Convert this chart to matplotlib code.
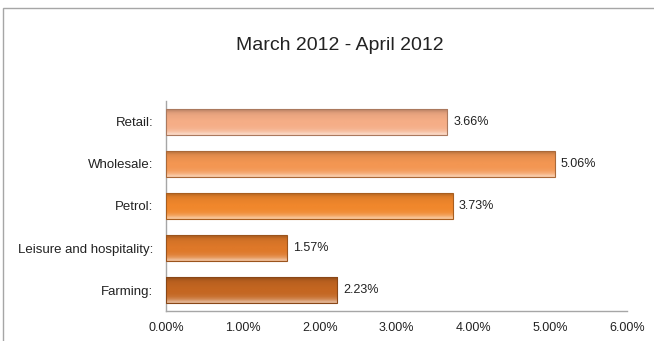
import matplotlib
matplotlib.use("Agg")
import matplotlib.pyplot as plt
import matplotlib.colors as mcolors
from matplotlib.patches import Rectangle
import numpy as np

plt.rcParams['font.family'] = ['Liberation Sans', 'DejaVu Sans']

# 資料
categories = ['Retail:', 'Wholesale:', 'Petrol:', 'Leisure and hospitality:', 'Farming:']
values = [3.66, 5.06, 3.73, 1.57, 2.23]
bar_colors = ['#F5AD86', '#F39652', '#F0872C', '#DE7829', '#C46621']
title = 'March 2012 - April 2012'
xticks = [0, 1, 2, 3, 4, 5, 6]

W, H = 654, 341
fig = plt.figure(figsize=(W / 100, H / 100), dpi=100)

# 外框
frame = Rectangle((3 / W, -0.1), 1.2, 1 - 8 / H + 0.1, transform=fig.transFigure,
                  fill=False, edgecolor='#A6A6A6', linewidth=1.0)
fig.patches.append(frame)

ax = fig.add_axes([166 / W, 1 - 311 / H, (627 - 166) / W, (311 - 101) / H])

y = np.arange(len(categories))
bars = ax.barh(y, values, height=0.6, color=bar_colors, edgecolor='none', zorder=2)


def shade(c, f):
    r, g, b = mcolors.to_rgb(c)
    if f >= 0:
        return (r + (1 - r) * f, g + (1 - g) * f, b + (1 - b) * f)
    return (r * (1 + f), g * (1 + f), b * (1 + f))


# 漸層效果
for bar, c in zip(bars, bar_colors):
    x0, y0 = bar.get_x(), bar.get_y()
    w, h = bar.get_width(), bar.get_height()
    prof = np.array([0.5, 0.22, 0.08, 0.02, 0.0, 0.0, -0.02, -0.04, -0.08, -0.2])
    grad = np.array([shade(c, f) for f in prof])[:, None, :]
    im = ax.imshow(grad, extent=(x0, x0 + w, y0, y0 + h), aspect='auto',
                   origin='upper', zorder=3, interpolation='bilinear')
    im.set_clip_path(bar)
    ax.add_patch(Rectangle((x0, y0), w, h, fill=False,
                           edgecolor=shade(c, -0.3), linewidth=0.8, zorder=4))
    ax.text(x0 + w + 0.08, y0 + h / 2, f'{w:.2f}%', va='center', ha='left',
            fontsize=9, color='#222222')

ax.set_xlim(0, 6)
ax.set_ylim(len(categories) - 0.5, -0.5)
ax.set_yticks(y)
ax.set_yticklabels(categories, fontsize=9.5, color='#222222')
ax.set_xticks(xticks)
ax.set_xticklabels([f'{t:.2f}%' for t in xticks], fontsize=9, color='#222222')
ax.tick_params(axis='x', length=0, pad=8)
ax.tick_params(axis='y', length=0, pad=9)
for s in ['top', 'right']:
    ax.spines[s].set_visible(False)
for s in ['left', 'bottom']:
    ax.spines[s].set_color('#A6A6A6')
    ax.spines[s].set_linewidth(1.0)

fig.text(340 / W, 1 - 46 / H, title, ha='center', va='center', fontsize=14, color='#222222')

fig.savefig('out.png', dpi=100)
